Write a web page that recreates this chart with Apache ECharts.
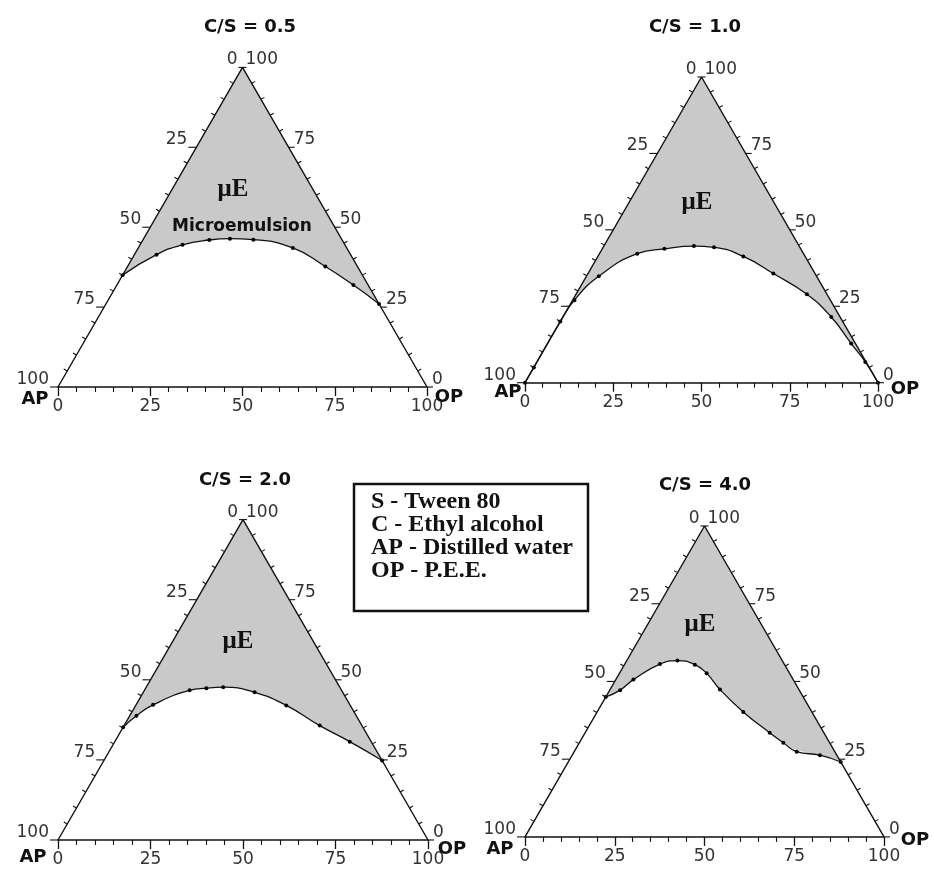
<!DOCTYPE html>
<html>
<head>
<meta charset="utf-8">
<script src="https://cdn.jsdelivr.net/npm/echarts@6/dist/echarts.min.js"></script>
<style>html,body{margin:0;padding:0;background:#fff}#c{width:934px;height:877px}</style>
</head>
<body>
<div id="c"></div>
<script>
// Ternary data: OP % and S+C (Smix) % for each boundary point; AP % = 100 - OP - Smix
const cs05OP = [0, 6.0, 11.5, 18.0, 23.4, 29.9, 41.9, 53.6, 64.1, 74.0];
const cs05SC = [35, 41.4, 44.5, 46.0, 46.4, 46.1, 43.5, 37.7, 31.9, 26.0];

const cs10OP = [0, 0, 0, 0.5, 3.5, 10.7, 17.6, 25.5, 31.4, 41.2, 52.5, 65.4, 76.0, 86.0, 93.0, 100];
const cs10SC = [0, 5, 20, 27, 34.8, 42.2, 43.8, 44.7, 44.3, 41.3, 35.7, 28.9, 21.5, 12.8, 6.8, 0];

const cs20OP = [0, 1.8, 4.6, 12.2, 16.4, 20.8, 30.1, 40.7, 52.9, 63.5, 75.2];
const cs20SC = [35.2, 38.8, 42.2, 46.7, 47.4, 47.7, 46.1, 42.0, 35.7, 30.7, 24.8];

const cs40OP = [0, 2.9, 4.9, 9.8, 14.1, 19.6, 24.3, 30.6, 40.7, 51.4, 56.8, 62.0, 69.0, 75.9];
const cs40SC = [45, 47.2, 50.6, 55.6, 56.7, 55.4, 52.6, 47.4, 40.2, 33.5, 30.3, 27.4, 26.3, 24.1];

const titles = ['C/S = 0.5', 'C/S = 1.0', 'C/S = 2.0', 'C/S = 4.0'];
const bottomTickLabels = ['0', '25', '50', '75', '100'];
const sideTicks = [0, 5, 10, 15, 20, 25, 30, 35, 40, 45, 50, 55, 60, 65, 70, 75, 80, 85, 90, 95, 100];
const legendLines = ['S - Tween 80', 'C - Ethyl alcohol', 'AP - Distilled water', 'OP - P.E.E.'];

const H = Math.sqrt(3) / 2;
const grids = [
  {left: 58, top: 67.4, width: 369, height: 319.6},
  {left: 525, top: 77, width: 353, height: 305.7},
  {left: 58, top: 519.6, width: 370, height: 320.4},
  {left: 525, top: 526, width: 359, height: 310.9}
];
const datasets = [[cs05OP, cs05SC], [cs10OP, cs10SC], [cs20OP, cs20SC], [cs40OP, cs40SC]];

const NUM_FONT = '17px "DejaVu Sans", sans-serif';
const series = [], xAxes = [], yAxes = [];

function sideRender(params, api) {
  const s = api.value(0);
  const a = api.coord([0, 0]), b = api.coord([50, 100 * H]), c = api.coord([100, 0]);
  const pL = api.coord([s / 2, s * H]);
  const pR = api.coord([100 - s / 2, s * H]);
  const children = [];
  const major = s % 25 === 0;
  const ls = {stroke: '#111', lineWidth: 1.1};
  if (!major) {
    let dx = b[0] - a[0], dy = b[1] - a[1]; let L = Math.hypot(dx, dy); dx /= L; dy /= L;
    const nL = [dy, -dx];
    children.push({type: 'line', shape: {x1: pL[0], y1: pL[1], x2: pL[0] + nL[0] * 4, y2: pL[1] + nL[1] * 4}, style: ls});
    dx = b[0] - c[0]; dy = b[1] - c[1]; L = Math.hypot(dx, dy); dx /= L; dy /= L;
    const nR = [-dy, dx];
    children.push({type: 'line', shape: {x1: pR[0], y1: pR[1], x2: pR[0] + nR[0] * 4, y2: pR[1] + nR[1] * 4}, style: ls});
  } else {
    const tl = s === 100 ? 4 : 8;
    const tr = s === 100 ? 4 : 6;
    children.push({type: 'line', shape: {x1: pL[0], y1: pL[1], x2: pL[0] - tl, y2: pL[1]}, style: ls});
    children.push({type: 'line', shape: {x1: pR[0], y1: pR[1], x2: pR[0] + tr, y2: pR[1]}, style: ls});
    children.push({type: 'text', style: {text: String(100 - s), x: pL[0] - tl - 1, y: pL[1] + 1, align: 'right', verticalAlign: 'bottom', font: NUM_FONT, fill: '#333'}});
    children.push({type: 'text', style: {text: String(s), x: pR[0] + tr - 1, y: pR[1] + 1, align: 'left', verticalAlign: 'bottom', font: NUM_FONT, fill: '#333'}});
  }
  return {type: 'group', children: children};
}

grids.forEach((g, i) => {
  xAxes.push({
    gridIndex: i, type: 'value', min: 0, max: 100, interval: 25, z: 6,
    axisLine: {show: true, onZero: false, lineStyle: {color: '#111', width: 1.5}},
    axisTick: {show: true, length: 9, lineStyle: {color: '#111', width: 1.3}},
    minorTick: {show: true, splitNumber: 5, length: 5, lineStyle: {color: '#111', width: 1.1}},
    splitLine: {show: false}, minorSplitLine: {show: false},
    axisLabel: {margin: 11, color: '#333', fontFamily: 'DejaVu Sans', fontSize: 17,
      formatter: v => bottomTickLabels[Math.round(v / 25)]}
  });
  yAxes.push({gridIndex: i, type: 'value', min: 0, max: 100 * H, show: false});

  const [op, sc] = datasets[i];
  const pts = op.map((o, k) => [o + sc[k] / 2, sc[k] * H]);
  const first = pts[0], last = pts[pts.length - 1];
  const tri = [[0, 0], [50, 100 * H], [100, 0]];
  const base = {xAxisIndex: i, yAxisIndex: i, silent: true, animation: false};
  series.push(Object.assign({type: 'line', data: tri, symbol: 'none', lineStyle: {width: 0, opacity: 0},
    areaStyle: {color: '#c9c9c9', opacity: 1, origin: 'start'}, z: 1}, base));
  series.push(Object.assign({type: 'line', data: [[0, 0], first, last, [100, 0]], symbol: 'none', lineStyle: {width: 0, opacity: 0},
    areaStyle: {color: '#ffffff', opacity: 1, origin: 'start'}, z: 2}, base));
  series.push(Object.assign({type: 'line', data: pts, smooth: 0.5, symbol: 'circle', symbolSize: 4,
    itemStyle: {color: '#000'}, lineStyle: {color: '#111', width: 1.3},
    areaStyle: {color: '#ffffff', opacity: 1, origin: 'start'}, z: 3}, base));
  series.push(Object.assign({type: 'line', data: tri, symbol: 'none', lineStyle: {color: '#111', width: 1.4}, z: 4}, base));
  series.push(Object.assign({type: 'custom', data: sideTicks.map(v => [v, 0]), renderItem: sideRender, z: 5}, base));
});

const graphic = [];
const titlePos = [[250, 27], [695, 27], [245, 480], [705, 485]];
titles.forEach((t, i) => graphic.push({type: 'text', x: titlePos[i][0], y: titlePos[i][1], z: 100,
  style: {text: t, font: 'bold 18px "DejaVu Sans", sans-serif', fill: '#111', align: 'center', verticalAlign: 'middle'}}));
const muPos = [[233, 190], [697, 203], [238, 642], [700, 625]];
muPos.forEach(p => graphic.push({type: 'text', x: p[0], y: p[1], z: 100,
  style: {text: 'μE', font: 'bold 25px "Liberation Serif", serif', fill: '#111', align: 'center', verticalAlign: 'middle'}}));
graphic.push({type: 'text', x: 242, y: 227, z: 100,
  style: {text: 'Microemulsion', font: 'bold 17px "DejaVu Sans", sans-serif', fill: '#111', align: 'center', verticalAlign: 'middle'}});
const apPos = [[35, 399], [508, 392], [33, 857], [500, 849]];
const opPos = [[449, 397], [905, 389], [452, 849], [915, 840]];
apPos.forEach(p => graphic.push({type: 'text', x: p[0], y: p[1], z: 100,
  style: {text: 'AP', font: 'bold 18px "DejaVu Sans", sans-serif', fill: '#111', align: 'center', verticalAlign: 'middle'}}));
opPos.forEach(p => graphic.push({type: 'text', x: p[0], y: p[1], z: 100,
  style: {text: 'OP', font: 'bold 18px "DejaVu Sans", sans-serif', fill: '#111', align: 'center', verticalAlign: 'middle'}}));
graphic.push({type: 'rect', shape: {x: 354, y: 484, width: 234, height: 127}, z: 100,
  style: {fill: '#fff', stroke: '#111', lineWidth: 2.5}});
legendLines.forEach((t, k) => graphic.push({type: 'text', x: 371, y: 502 + k * 23, z: 101,
  style: {text: t, font: 'bold 24px "Liberation Serif", serif', fill: '#111', align: 'left', verticalAlign: 'middle'}}));

const chart = echarts.init(document.getElementById('c'), null, {renderer: 'canvas'});
chart.setOption({
  animation: false,
  backgroundColor: '#fff',
  grid: grids.map(g => Object.assign({containLabel: false}, g)),
  xAxis: xAxes,
  yAxis: yAxes,
  series: series,
  graphic: graphic
});
</script>
</body>
</html>
